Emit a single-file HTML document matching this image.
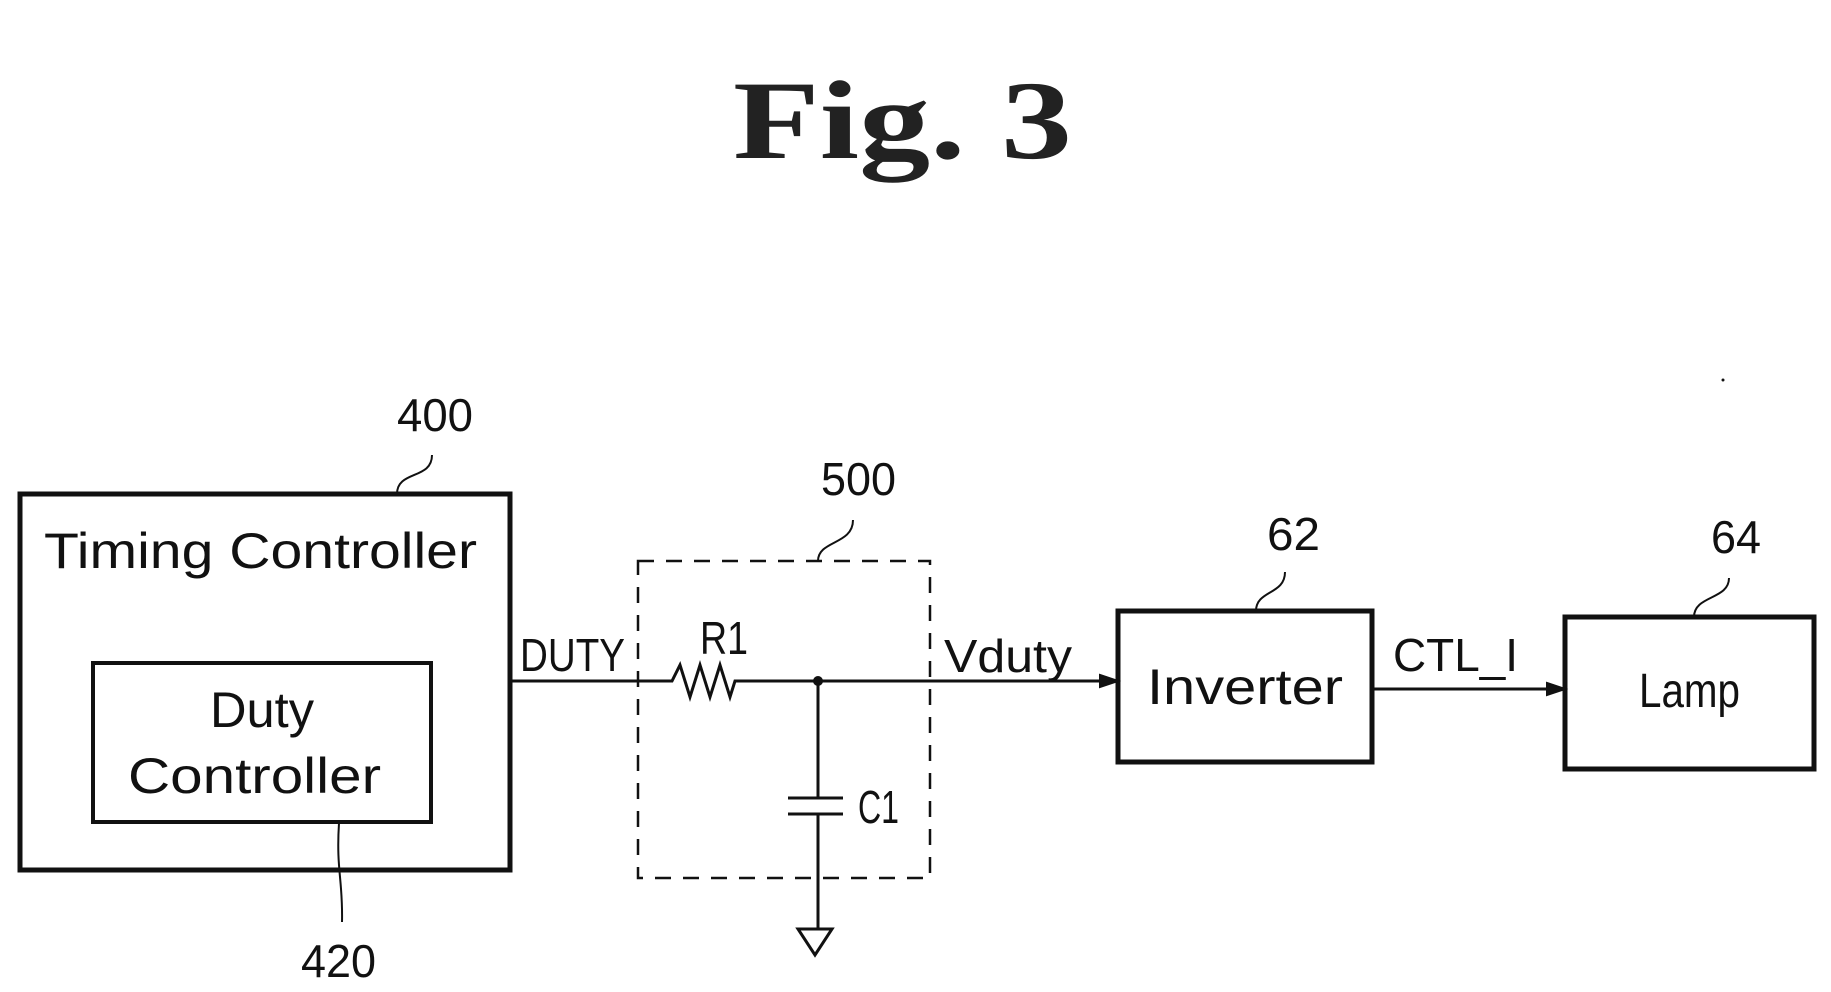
<!DOCTYPE html>
<html><head><meta charset="utf-8"><style>html,body{margin:0;padding:0;background:#fff}svg{display:block}</style></head>
<body>
<svg width="1831" height="992" viewBox="0 0 1831 992" xmlns="http://www.w3.org/2000/svg">
<g font-family="Liberation Serif, serif" font-weight="bold" fill="#222">
<text x="733" y="158" font-size="112" textLength="339" lengthAdjust="spacingAndGlyphs">Fig.  3</text>
</g>
<g fill="none" stroke="#111" stroke-width="5">
<rect x="20" y="494" width="490" height="376"/>
<rect x="93" y="663" width="338" height="159" stroke-width="4"/>
<rect x="1118" y="611" width="254" height="151"/>
<rect x="1565" y="617" width="249" height="152"/>
<rect x="638" y="561" width="292" height="317" stroke-width="2.5" stroke-dasharray="16,12"/>
<path d="M510 681 H672 l8 -16 l10 32 l10 -32 l10 32 l10 -32 l10 32 l5 -16 H1108" stroke-width="3"/>
<path d="M1372 689 H1555" stroke-width="3"/>
<path d="M818 681 V798 M788 798 H843 M788 814 H843 M818 814 V929" stroke-width="3"/>
<path d="M798 929 H832 L815 955 Z" stroke-width="3"/>
<path d="M432 455 C432 480 397 470 397 494" stroke-width="2"/>
<path d="M339 823 C336 870 343 880 342 922" stroke-width="2"/>
<path d="M853 520 C853 545 818 540 818 561" stroke-width="2"/>
<path d="M1285 572 C1285 595 1256 590 1256 611" stroke-width="2"/>
<path d="M1729 578 C1729 600 1694 595 1694 617" stroke-width="2"/>
</g>
<g stroke="#111" stroke-width="2" fill="#111">
<path d="M1100 675 L1118 681 L1100 687 Z"/>
<path d="M1547 683 L1565 689 L1547 695 Z"/>
<circle cx="818" cy="681" r="4"/>
<circle cx="1723" cy="380" r="1.5" stroke="none"/>
</g>
<g font-family="Liberation Sans, sans-serif" fill="#111">
<text x="44" y="568" font-size="50" textLength="433" lengthAdjust="spacingAndGlyphs">Timing Controller</text>
<text x="210" y="727" font-size="50" textLength="104" lengthAdjust="spacingAndGlyphs">Duty</text>
<text x="128" y="793" font-size="50" textLength="253" lengthAdjust="spacingAndGlyphs">Controller</text>
<text x="397" y="431" font-size="46" textLength="76" lengthAdjust="spacingAndGlyphs">400</text>
<text x="301" y="977" font-size="46" textLength="75" lengthAdjust="spacingAndGlyphs">420</text>
<text x="821" y="495" font-size="46" textLength="75" lengthAdjust="spacingAndGlyphs">500</text>
<text x="1267" y="550" font-size="46" textLength="53" lengthAdjust="spacingAndGlyphs">62</text>
<text x="1711" y="553" font-size="46" textLength="50" lengthAdjust="spacingAndGlyphs">64</text>
<text x="520" y="671" font-size="46" textLength="105" lengthAdjust="spacingAndGlyphs">DUTY</text>
<text x="700" y="654" font-size="46" textLength="48" lengthAdjust="spacingAndGlyphs">R1</text>
<text x="858" y="823" font-size="46" textLength="41" lengthAdjust="spacingAndGlyphs">C1</text>
<text x="944" y="672" font-size="46" textLength="128" lengthAdjust="spacingAndGlyphs">Vduty</text>
<text x="1393" y="671" font-size="46" textLength="125" lengthAdjust="spacingAndGlyphs">CTL_I</text>
<text x="1147" y="704" font-size="50" textLength="196" lengthAdjust="spacingAndGlyphs">Inverter</text>
<text x="1639" y="707" font-size="48" textLength="101" lengthAdjust="spacingAndGlyphs">Lamp</text>
</g>
</svg>
</body></html>
